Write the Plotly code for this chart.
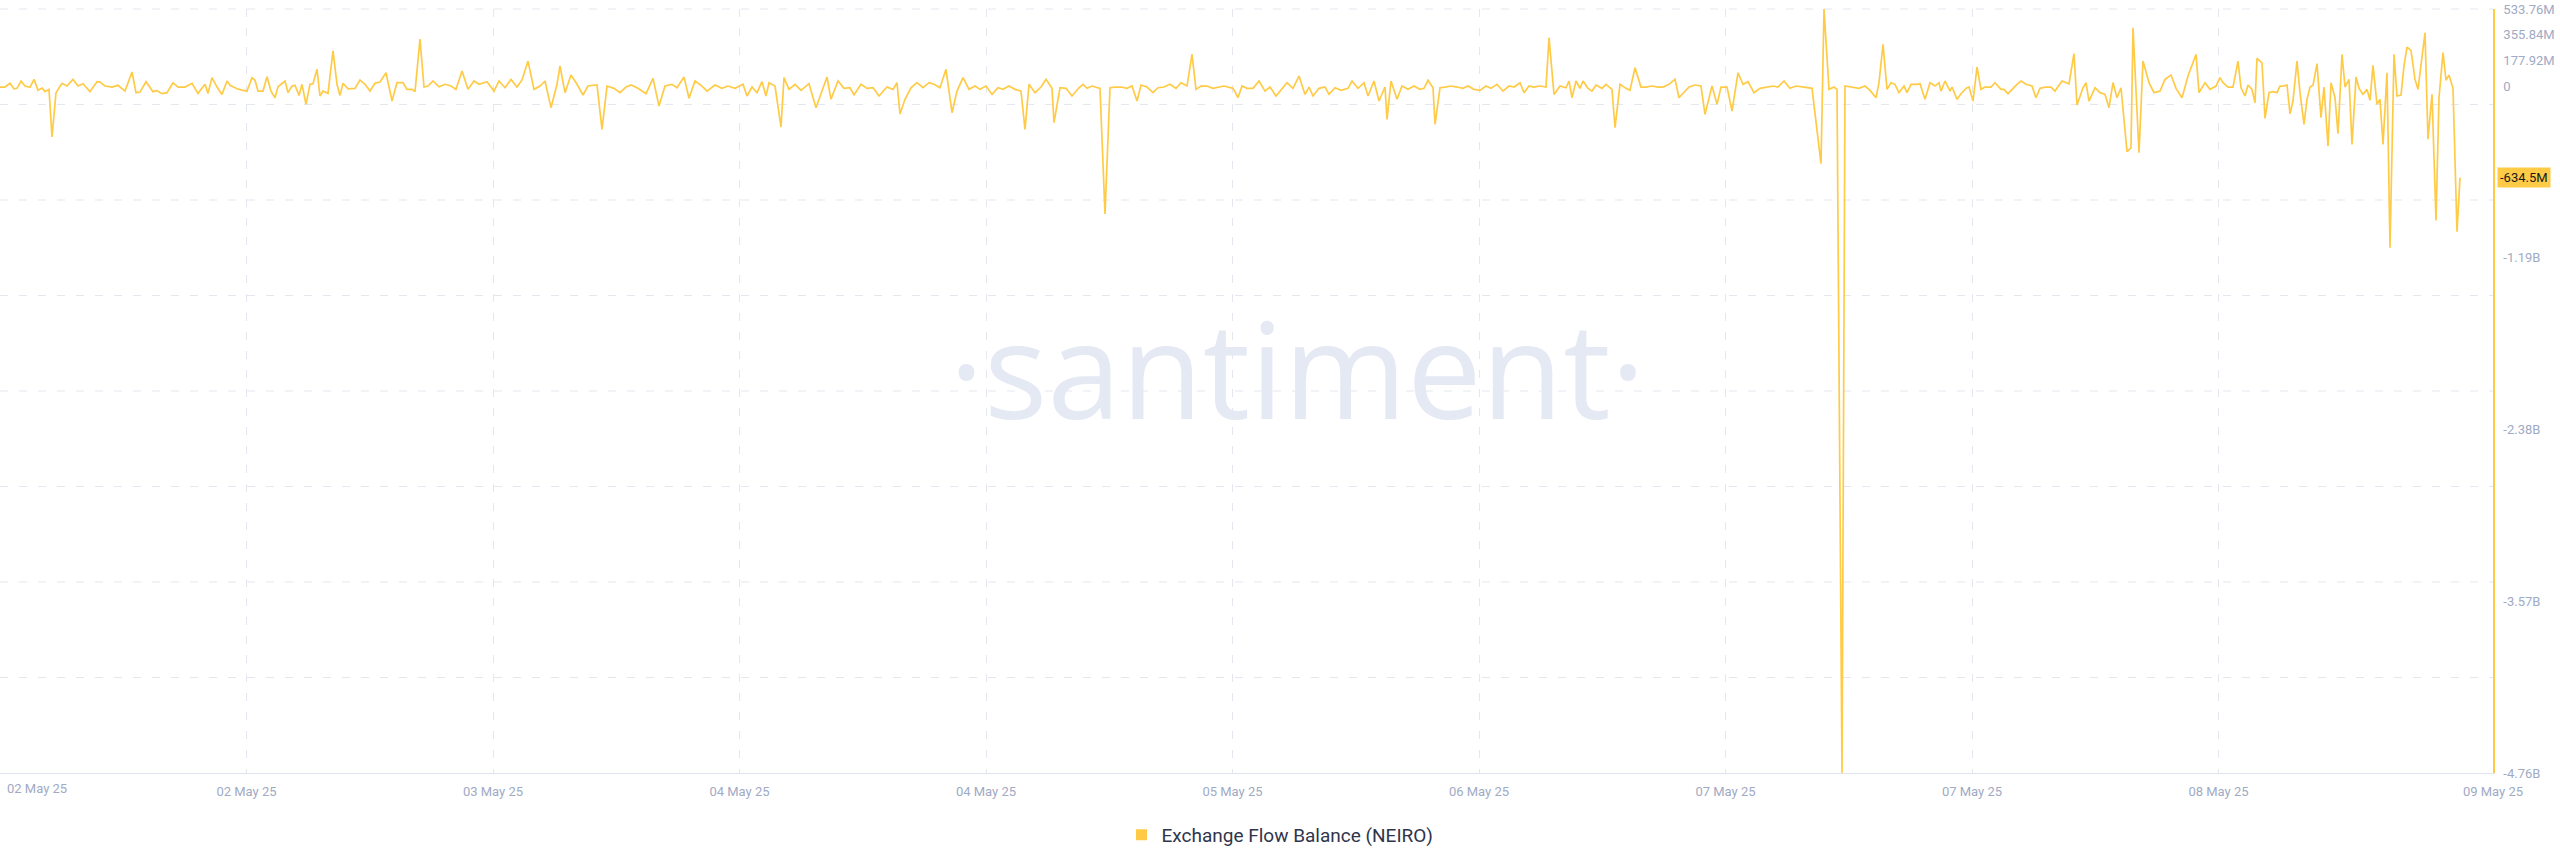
import plotly.graph_objects as go
from datetime import datetime, timedelta

# ---------------- data ----------------
start_time = "2025-05-02 05:30"
end_time = "2025-05-09 03:42"

# minutes since start_time, and Exchange Flow Balance in millions of NEIRO
t_min_a = [0, 20, 40, 56, 68, 84, 100, 120, 136, 152, 168, 180, 196, 208, 224, 248, 268, 292, 312, 332,
           360, 388, 400, 420, 448, 472, 500, 528, 544, 560, 584, 612, 628, 648, 668, 692, 712, 740, 768, 792,
           820, 832, 848, 868, 888, 908, 920, 948, 972, 988, 1008, 1020, 1032, 1052, 1068, 1084, 1100, 1112, 1140, 1152,
           1168, 1180, 1196, 1208, 1224, 1240, 1252, 1268, 1280, 1292, 1312, 1332, 1348, 1360, 1372, 1392, 1420, 1440, 1460, 1480,
           1500, 1520, 1544, 1568, 1588, 1612, 1628, 1648, 1660, 1680]
val_a = [-7, -7, 19, -19, -16, 35, 0, -9, 46, -30, -14, -39, -23, -353, -46, 19, 0, 46, 0, 16,
         -39, 30, 28, 0, -7, 5, -35, 97, -46, -42, 30, -39, -32, -53, -46, 23, -7, -7, 19, -51,
         12, -51, 58, -7, -58, 35, 5, -19, -30, -35, 58, 40, -35, -35, 65, -35, -81, -5, 35, -46,
         0, 5, -65, 12, -127, 12, 16, 116, -69, -35, -51, 243, 12, -65, 19, -19, -16, 42, 12, -35,
         19, 28, 92, -104, 23, 23, -23, -23, -39, 325]

t_min_b = [1696, 1712, 1732, 1756, 1780, 1804, 1824, 1848, 1872, 1896, 1916, 1948, 1976, 1996, 2020, 2044, 2068, 2088, 2112, 2136,
           2160, 2180, 2204, 2228, 2240, 2260, 2284, 2308, 2332, 2352, 2388, 2408, 2428, 2456, 2480, 2504, 2524, 2552, 2584, 2612,
           2636, 2660, 2688, 2708, 2736, 2756, 2780, 2808, 2828, 2860, 2888, 2912, 2940, 2972, 2988, 3008, 3028, 3048, 3064, 3076,
           3100, 3124, 3136, 3156, 3180, 3204, 3236, 3264, 3308, 3324, 3352, 3376, 3400, 3416, 3444, 3468, 3492, 3516, 3548, 3572,
           3588, 3600]
val_b = [-7, 0, 35, -5, 12, 0, -23, 104, -23, 35, 12, 30, -35, 35, -12, 46, -7, 42, 173, -23,
         0, 35, -150, 12, 139, -46, 76, 12, -62, 0, 7, -300, 0, -16, -46, -7, 7, -16, -53, 53,
         -139, 0, 12, -12, 62, -85, 35, 0, -35, 7, -16, 0, -16, 12, -69, -7, -46, 30, -69, 23,
         0, -284, 58, -23, 12, -30, 16, -150, 62, -92, 35, -16, -12, -62, 12, -16, -12, -69, -7, -23,
         23, -194]

t_min_c = [3620, 3644, 3668, 3692, 3716, 3736, 3760, 3784, 3808, 3828, 3852, 3876, 3900, 3920, 3944, 3968, 3992, 4012, 4036, 4060,
           4084, 4100, 4116, 4140, 4164, 4184, 4208, 4216, 4240, 4264, 4288, 4316, 4332, 4348, 4368, 4400, 4420, 4440, 4460, 4484,
           4508, 4528, 4548, 4564, 4588, 4612, 4632, 4656, 4680, 4704, 4724, 4748, 4768, 4784, 4804, 4828, 4852, 4876, 4896, 4932,
           4952, 4968, 4988, 5012, 5036, 5060, 5080, 5104, 5128, 5148, 5172, 5196, 5220, 5236, 5252, 5276, 5300, 5316, 5340, 5364,
           5392, 5408, 5432, 5456, 5472, 5496, 5516, 5540, 5548, 5564, 5588, 5608, 5632, 5656, 5680, 5696, 5712, 5732, 5740, 5760,
           5780, 5804, 5828, 5852, 5872, 5896, 5920, 5944, 5964, 5988, 6012, 6036, 6056, 6080, 6096, 6116, 6136, 6160, 6184, 6196,
           6216, 6240, 6264, 6276, 6288, 6304, 6320, 6332, 6352, 6368, 6384, 6408, 6424, 6448, 6460, 6480, 6504, 6520, 6540, 6564,
           6584, 6608, 6632, 6652, 6676, 6700, 6716, 6736, 6756, 6780, 6804, 6820, 6848, 6868, 6884, 6908, 6928, 6952, 6972, 6992,
           7016, 7040, 7068, 7092, 7112, 7136, 7160, 7184]
val_c = [-92, -12, 23, -12, 23, 12, -12, 116, -185, -35, 58, -23, 0, -23, 0, -58, -12, -23, 0, -23,
         -35, -300, 12, -46, -7, 46, -16, -254, -12, -16, -69, -12, 12, -16, 0, -16, -887, -12, -7, -7,
         -16, 0, -104, 7, -7, -46, -12, -7, 12, -16, 23, 0, 219, -23, 0, 0, -16, -7, 0, -16,
         -81, 0, -16, -16, 35, -35, -7, -69, -23, 23, -16, 69, -58, -7, -69, -16, -7, -58, -12, -30,
         -16, 35, -16, 23, -69, 35, -104, -7, -231, 35, -92, 0, -23, 0, -23, -16, 40, -12, -265, -12,
         -7, 0, -7, -16, 0, -23, -30, 0, -16, 12, -35, 0, -7, 23, -46, 0, -7, 0, -7, 335,
         -58, 0, -12, 35, -81, 35, -16, 35, -16, -35, 7, -16, 12, -23, -289, 12, -16, -30, 127, -7,
         -7, 0, -7, -7, 12, 46, -81, -46, -7, 7, 0, -196, 0, -127, -7, -7, -173, 92, 12, 30,
         -46, -16, -7, 0, -7, 35, -16, 0]

t_min_d = [7216, 7248, 7284, 7296, 7316, 7336, 7348, 7368, 7380, 7404, 7436, 7460, 7480, 7504, 7516, 7532, 7548, 7564, 7580, 7596,
           7616, 7628, 7644, 7668, 7680, 7700, 7720, 7740, 7756, 7764, 7780, 7800, 7808, 7828, 7844, 7864, 7876, 7892, 7908, 7924,
           7940, 7964, 7980, 8004, 8016, 8032, 8052, 8068, 8084, 8104, 8128, 8144, 8160, 8184, 8204, 8220, 8248, 8276, 8296, 8308,
           8332, 8344, 8356, 8380, 8400, 8420, 8436, 8452, 8468, 8484, 8508, 8524, 8532, 8556, 8572, 8596, 8616, 8640, 8660, 8684,
           8704, 8728, 8752, 8784, 8796, 8820, 8840, 8864]
val_d = [-7, -16, -538, 533.76, -23, -7, -23, -4760, 0, -7, -16, 0, -30, -81, 23, 289, -23, 23, 12, -46,
         0, -46, 12, 12, 16, -92, 23, 0, 23, -35, 35, -35, -7, -92, -53, -16, -7, -104, 132, -23,
         -7, -7, 23, -23, -23, -53, -16, 12, 35, 12, 0, -81, -16, -7, -7, -35, 35, 16, 224, -132,
         -12, 23, -104, -12, -46, -58, -150, 23, -81, -12, -455, -428, 404, -462, 173, 23, -46, -35, 46, 76,
         -16, -81, 69, 219, -46, 23, -23, 0]

t_min_e = [8880, 8892, 8912, 8932, 8952, 8964, 8980, 8992, 9008, 9020, 9028, 9048, 9060, 9076, 9092, 9108, 9120, 9132, 9148, 9160,
           9172, 9188, 9200, 9216, 9228, 9240, 9252, 9268, 9284, 9296, 9312, 9324, 9340, 9352, 9368, 9380, 9396, 9408, 9424, 9436,
           9452, 9468, 9480, 9492, 9508, 9520, 9532, 9548, 9560, 9576, 9588, 9604, 9616, 9628, 9644, 9660, 9672, 9688, 9700, 9712,
           9728, 9744, 9756, 9772, 9784, 9796, 9812, 9828, 9840]
val_e = [58, 23, -7, -7, 173, -12, -69, 7, -23, -116, 192, 161, -224, -46, -39, -46, 0, 0, 7, -192,
         -104, 173, -46, -265, -92, -7, 5, 155, -219, -7, -416, 23, -81, -330, 219, -7, 46, -404, 62, -16,
         -58, -23, -99, 143, -127, -92, -404, 92, -1120, 219, -69, -62, 139, 270, 247, 46, -23, 208, 369, -369,
         -58, -931, -81, 231, 40, 76, -16, -1010, -634.5]

series_name = "Exchange Flow Balance (NEIRO)"
last_value_label = "-634.5M"

x_tick_times = ["2025-05-02 05:30", "2025-05-02 21:56", "2025-05-03 14:22", "2025-05-04 06:48",
                "2025-05-04 23:14", "2025-05-05 15:40", "2025-05-06 08:06", "2025-05-07 00:32",
                "2025-05-07 16:58", "2025-05-08 09:24", "2025-05-09 03:42"]
x_tick_labels = ["02 May 25", "02 May 25", "03 May 25", "04 May 25", "04 May 25", "05 May 25",
                 "06 May 25", "07 May 25", "07 May 25", "08 May 25", "09 May 25"]

y_tick_vals = [533.76e6, 355.84e6, 177.92e6, 0, -1.19e9, -2.38e9, -3.57e9, -4.76e9]
y_tick_labels = ["533.76M", "355.84M", "177.92M", "0", "-1.19B", "-2.38B", "-3.57B", "-4.76B"]
y_range = [-4.76e9, 533.76e6]

# ---------------- build ----------------
t_min = t_min_a + t_min_b + t_min_c + t_min_d + t_min_e
values_m = val_a + val_b + val_c + val_d + val_e
assert len(t_min) == len(values_m)

t0 = datetime.strptime(start_time, "%Y-%m-%d %H:%M")
times = [t0 + timedelta(minutes=m) for m in t_min]
values = [v * 1e6 for v in values_m]

YELLOW = "#FFCB47"
GRID = "#E4E7F0"
AXIS_TEXT = "#9FAAC4"
FONT = "Roboto"

fig = go.Figure()
fig.add_trace(go.Scatter(
    x=times, y=values, mode="lines",
    line=dict(color=YELLOW, width=1.7),
    showlegend=False, hoverinfo="skip",
))
# legend entry (square swatch)
fig.add_trace(go.Scatter(
    x=[None], y=[None], mode="markers",
    marker=dict(symbol="square", size=11, color=YELLOW),
    name=series_name, showlegend=True,
))

# horizontal gridlines: plot split into 8 equal bands
for k in range(1, 9):
    fig.add_shape(type="line", xref="paper", yref="paper", x0=0, x1=1, y0=k / 8, y1=k / 8,
                  line=dict(color=GRID, width=1, dash="8px,11px"), layer="below")

fig.update_layout(
    template="none",
    width=2560, height=867,
    paper_bgcolor="white", plot_bgcolor="white",
    margin=dict(l=0, r=67, t=9, b=94),
    font=dict(family=FONT, size=13, color=AXIS_TEXT),
    showlegend=True,
    legend=dict(orientation="h", xref="container", yref="container", x=0.5, y=0.037,
                xanchor="center", yanchor="middle",
                font=dict(family=FONT, size=19, color="#2F354D"),
                bgcolor="rgba(0,0,0,0)"),
    xaxis=dict(
        type="date",
        range=[start_time, end_time],
        tickvals=x_tick_times,
        ticktext=[""] + x_tick_labels[1:],
        showgrid=True, gridcolor=GRID, gridwidth=1, griddash="8px,11px",
        showline=True, linecolor="#E0E4EE", linewidth=1,
        ticks="", ticklabelstandoff=6,
        tickfont=dict(family=FONT, size=13, color=AXIS_TEXT),
        zeroline=False, automargin=False,
    ),
    yaxis=dict(
        side="right",
        range=y_range,
        tickvals=y_tick_vals, ticktext=y_tick_labels,
        showgrid=False, zeroline=False,
        showline=True, linecolor=YELLOW, linewidth=1.5,
        ticks="", ticklabelstandoff=6,
        tickfont=dict(family=FONT, size=13, color=AXIS_TEXT),
        automargin=False,
    ),
)

# first x label sits just inside the left edge
fig.add_annotation(x=start_time, xref="x", y=0, yref="paper", yanchor="top", xanchor="left",
                   xshift=5, yshift=-6, text=x_tick_labels[0], showarrow=False,
                   font=dict(family=FONT, size=13, color=AXIS_TEXT))

# watermark
fig.add_annotation(x=0.5203, y=0.531, xref="paper", yref="paper", xanchor="center", yanchor="middle",
                   text="·santiment·", showarrow=False,
                   font=dict(family="Open Sans", size=133, color="#E4E9F3"))

# last value badge on the right axis
fig.add_annotation(x=1, xref="paper", y=values[-1], yref="y", xanchor="left", xshift=4,
                   text=last_value_label, showarrow=False, bgcolor=YELLOW, borderpad=2,
                   font=dict(family=FONT, size=13, color="#1A1A1A"))

fig.write_html("out.html", config={"displayModeBar": False},
               post_script="document.body.style.margin='0px';")
